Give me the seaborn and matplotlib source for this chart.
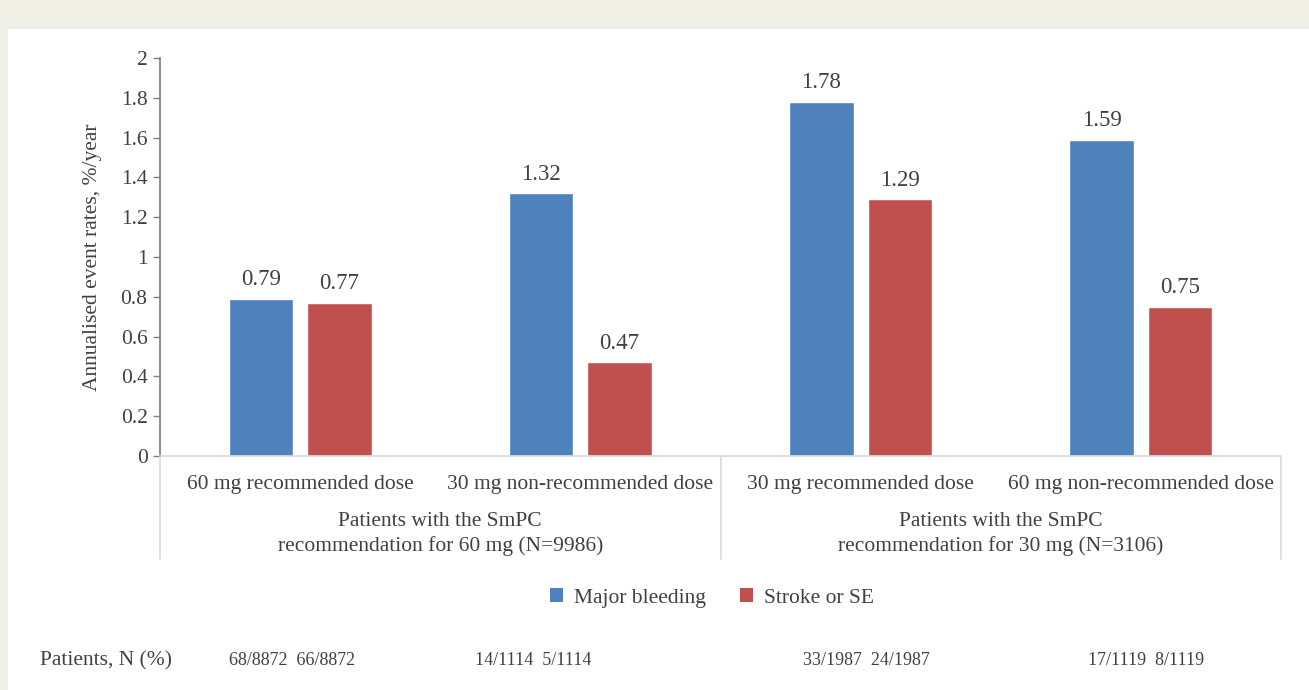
import pandas as pd
import matplotlib.pyplot as plt
import matplotlib.patches as mpatches
import matplotlib.transforms as mtransforms
import seaborn as sns

# data
doses = ["60 mg recommended dose", "30 mg non-recommended dose",
         "30 mg recommended dose", "60 mg non-recommended dose"]
major_bleeding = [0.79, 1.32, 1.78, 1.59]
stroke_se = [0.77, 0.47, 1.29, 0.75]
series = ["Major bleeding", "Stroke or SE"]
group_labels = ["Patients with the SmPC\nrecommendation for 60 mg (N=9986)",
                "Patients with the SmPC\nrecommendation for 30 mg (N=3106)"]
patient_counts = ["68/8872  66/8872", "14/1114  5/1114",
                  "33/1987  24/1987", "17/1119  8/1119"]
count_pos = [-0.03, 0.83, 2.02, 3.02]

df = pd.DataFrame({
    "dose": doses * 2,
    "rate": major_bleeding + stroke_se,
    "series": [series[0]] * 4 + [series[1]] * 4,
})

sns.set_theme(style="white")
plt.rcParams['font.family'] = ['Liberation Serif', 'DejaVu Serif']
txt = "#404040"
colors = ["#4f81bd", "#c0504d"]

fig = plt.figure(figsize=(13.09, 6.9), dpi=100)
fig.patch.set_facecolor("white")
# beige page frame top / left
fig.patches.append(mpatches.Rectangle((0, 1 - 29 / 690), 1, 29 / 690, transform=fig.transFigure,
                                      facecolor="#efefe6", edgecolor="none", zorder=0))
fig.patches.append(mpatches.Rectangle((0, 0), 8 / 1309, 1, transform=fig.transFigure,
                                      facecolor="#efefe6", edgecolor="none", zorder=0))

ax = fig.add_axes([160 / 1309, 1 - 456 / 690, (1281 - 160) / 1309, (456 - 58) / 690])
ax.set_facecolor("none")

sns.barplot(data=df, x="dose", y="rate", hue="series", order=doses, hue_order=series,
            palette=colors, width=0.56, gap=0.18, saturation=1, legend=False, ax=ax)

for cont in ax.containers:
    ax.bar_label(cont, fmt="%.2f", padding=6, fontsize=16.5, color=txt)

ax.set_ylim(0, 2)
ax.set_xlim(-0.5, 3.5)
ax.set_yticks([i / 5 for i in range(11)])
ax.set_yticklabels(["0", "0.2", "0.4", "0.6", "0.8", "1", "1.2", "1.4", "1.6", "1.8", "2"])
ax.tick_params(axis="y", direction="out", length=5, width=1, color="#808080",
               labelsize=15.5, labelcolor=txt, left=True, pad=4)
ax.tick_params(axis="x", length=0, pad=14, labelsize=15.5, labelcolor=txt)
ax.set_xlabel("")
ax.set_ylabel("Annualised event rates, %/year", fontsize=15.5, color=txt, labelpad=13)

for s in ["top", "right"]:
    ax.spines[s].set_visible(False)
ax.spines["left"].set_color("#808080")
ax.spines["bottom"].set_color("#d9d9d9")

# category group separators and labels below the axis
trans = mtransforms.blended_transform_factory(ax.transData, ax.transAxes)
for xv in [-0.5, 1.5, 3.5]:
    ax.plot([xv, xv], [0, -0.26], transform=trans, color="#d9d9d9", lw=1.2, clip_on=False)
for i, lab in enumerate(group_labels):
    ax.text(0.5 + 2 * i, -0.197, lab, transform=trans, ha="center", va="center",
            fontsize=15.5, color=txt, linespacing=1.35)

# patient counts row
ax.text(40 / 1309, 1 - 661 / 690, "Patients, N (%)", transform=fig.transFigure,
        ha="left", va="center", fontsize=15.5, color=txt)
for xv, lab in zip(count_pos, patient_counts):
    ax.text(xv, -0.515, lab, transform=trans, ha="center", va="center",
            fontsize=13, color=txt)

handles = [mpatches.Patch(facecolor=c, edgecolor="none", label=s) for c, s in zip(colors, series)]
fig.legend(handles=handles, loc="center", bbox_to_anchor=(712 / 1309, 1 - 598 / 690), ncol=2,
           frameon=False, fontsize=15.5, handlelength=0.6, handleheight=0.6,
           handletextpad=0.5, columnspacing=1.6, labelcolor=txt)

fig.savefig("out.png", dpi=100, facecolor=fig.get_facecolor())
